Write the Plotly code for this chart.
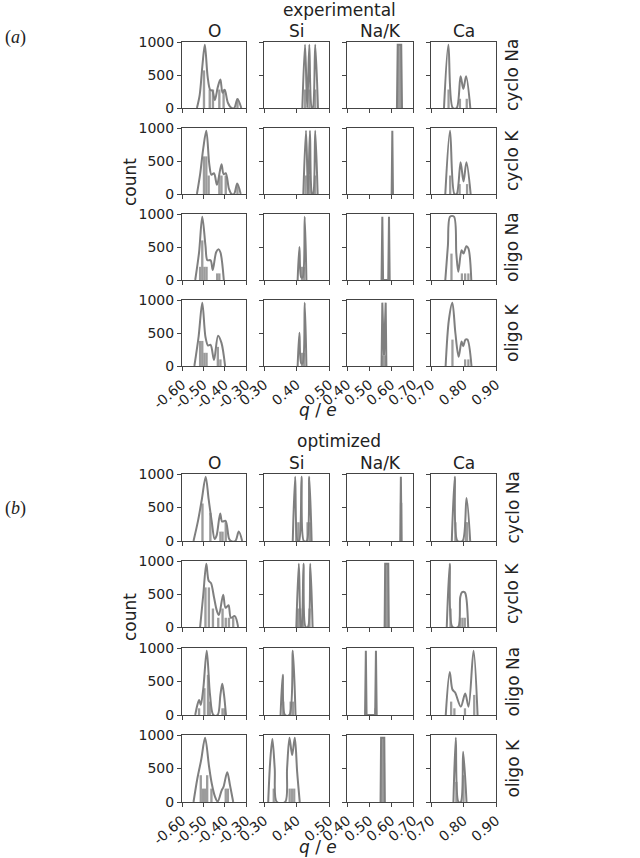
import plotly.graph_objects as go

# panel labels
columns = ['O', 'Si', 'Na/K', 'Ca']
rows = ['cyclo Na', 'cyclo K', 'oligo Na', 'oligo K']
groups = ['experimental', 'optimized']
panel_tags = ['(<i>a</i>)', '(<i>b</i>)']

x_ranges = [[-0.60, -0.30], [0.30, 0.50], [0.40, 0.70], [0.70, 0.90]]
x_ticks = [[-0.60, -0.50, -0.40, -0.30], [0.30, 0.40, 0.50],
           [0.40, 0.50, 0.60, 0.70], [0.70, 0.80, 0.90]]
y_ticks = [0, 500, 1000]

# ---- experimental charges: (q, count), one list per row ----
exp_O_curve = [
    [(-0.53, 0), (-0.517, 200), (-0.505, 620), (-0.493, 960), (-0.48, 480), (-0.468, 275), (-0.458, 265),
     (-0.446, 120), (-0.432, 320), (-0.42, 430), (-0.41, 230), (-0.40, 275), (-0.385, 80), (-0.368, 0),
     (-0.355, 0), (-0.34, 136), (-0.322, 0)],
    [(-0.53, 0), (-0.515, 300), (-0.5, 700), (-0.486, 960), (-0.472, 450), (-0.462, 290), (-0.45, 315),
     (-0.436, 140), (-0.415, 450), (-0.405, 300), (-0.395, 315), (-0.38, 80), (-0.368, 0), (-0.356, 0),
     (-0.341, 160), (-0.325, 0)],
    [(-0.538, 0), (-0.52, 420), (-0.505, 960), (-0.49, 520), (-0.481, 300), (-0.466, 300), (-0.456, 150),
     (-0.44, 420), (-0.429, 465), (-0.42, 420), (-0.404, 0)],
    [(-0.542, 0), (-0.522, 450), (-0.505, 960), (-0.49, 440), (-0.478, 310), (-0.466, 320), (-0.45, 90),
     (-0.431, 460), (-0.415, 350), (-0.398, 0)],
]
exp_O_bars = [
    [(-0.497, 570), (-0.47, 280), (-0.455, 280), (-0.425, 280), (-0.405, 280), (-0.34, 140)],
    [(-0.497, 570), (-0.486, 570), (-0.475, 280), (-0.425, 280), (-0.415, 280), (-0.395, 280), (-0.34, 140)],
    [(-0.515, 200), (-0.505, 600), (-0.495, 200), (-0.485, 200), (-0.435, 100), (-0.425, 100)],
    [(-0.515, 380), (-0.505, 380), (-0.495, 200), (-0.485, 200), (-0.432, 290), (-0.42, 100)],
]
exp_Si_curve = [
    [(0.418, 0), (0.4263, 960), (0.433, 0), (0.4394, 960), (0.447, 0), (0.45, 0), (0.4576, 960), (0.466, 0)],
    [(0.421, 0), (0.4293, 960), (0.4355, 0), (0.4414, 960), (0.448, 0), (0.451, 0), (0.4576, 960), (0.465, 0)],
    [(0.4035, 0), (0.409, 500), (0.4145, 40), (0.419, 40), (0.4253, 960), (0.4305, 0)],
    [(0.4035, 0), (0.409, 505), (0.4145, 40), (0.419, 40), (0.4253, 960), (0.4305, 0)],
]
exp_Si_bars = [
    [(0.4263, 280), (0.4394, 280), (0.4576, 280)],
    [(0.428, 280), (0.434, 280), (0.441, 280), (0.457, 280)],
    [(0.417, 200), (0.423, 200)],
    [(0.417, 200), (0.423, 200)],
]
exp_NaK_curve = [
    [(0.627, 0), (0.6305, 960), (0.6465, 960), (0.650, 0)],
    [(0.603, 0), (0.606, 960), (0.609, 0)],
    [(0.557, 0), (0.5606, 960), (0.564, 0), (0.5875, 0), (0.5909, 960), (0.594, 0)],
    [(0.557, 0), (0.5606, 960), (0.568, 160), (0.5758, 960), (0.579, 0)],
]
exp_NaK_bars = [
    [(0.6345, 960), (0.6425, 960)],
    [],
    [],
    [(0.563, 160), (0.572, 160)],
]
exp_Ca_curve = [
    [(0.74, 0), (0.7535, 960), (0.767, 0), (0.779, 0), (0.791, 480), (0.7995, 290), (0.808, 480), (0.821, 0)],
    [(0.744, 0), (0.7586, 960), (0.772, 0), (0.779, 0), (0.791, 480), (0.800, 190), (0.809, 480), (0.822, 0)],
    [(0.744, 0), (0.752, 520), (0.7586, 960), (0.7707, 960), (0.778, 400), (0.784, 125), (0.794, 450),
     (0.80, 400), (0.809, 510), (0.815, 480), (0.824, 0)],
    [(0.745, 0), (0.755, 700), (0.7657, 960), (0.775, 500), (0.785, 140), (0.794, 370), (0.799, 300),
     (0.806, 400), (0.812, 400), (0.8245, 0)],
]
exp_Ca_bars = [
    [(0.754, 280), (0.789, 140), (0.81, 140)],
    [(0.759, 280), (0.788, 150), (0.811, 150)],
    [(0.763, 400), (0.795, 100), (0.805, 100), (0.815, 100)],
    [(0.766, 400), (0.805, 100), (0.815, 100)],
]

# ---- optimized charges ----
opt_O_curve = [
    [(-0.546, 0), (-0.525, 300), (-0.507, 620), (-0.489, 960), (-0.475, 620), (-0.461, 300), (-0.447, 30),
     (-0.438, 80), (-0.421, 410), (-0.412, 290), (-0.396, 300), (-0.38, 40), (-0.371, 0), (-0.35, 0),
     (-0.334, 140), (-0.318, 0)],
    [(-0.515, 0), (-0.5, 500), (-0.486, 960), (-0.475, 700), (-0.464, 665), (-0.45, 450), (-0.437, 250),
     (-0.427, 180), (-0.407, 490), (-0.396, 290), (-0.382, 330), (-0.371, 140), (-0.3526, 165), (-0.337, 0)],
    [(-0.538, 0), (-0.528, 150), (-0.5196, 225), (-0.512, 150), (-0.5, 400), (-0.484, 960), (-0.4686, 300),
     (-0.453, 0), (-0.433, 0), (-0.42, 300), (-0.4113, 465), (-0.403, 300), (-0.394, 0)],
    [(-0.546, 0), (-0.528, 350), (-0.51, 630), (-0.4918, 960), (-0.4732, 530), (-0.4608, 280), (-0.4454, 80),
     (-0.433, 5), (-0.4144, 170), (-0.405, 230), (-0.388, 445), (-0.375, 250), (-0.36, 0)],
]
opt_O_bars = [
    [(-0.504, 560), (-0.467, 420), (-0.42, 140), (-0.41, 140), (-0.395, 280)],
    [(-0.49, 600), (-0.474, 600), (-0.455, 280), (-0.43, 140), (-0.41, 280), (-0.395, 140), (-0.38, 140),
     (-0.36, 140)],
    [(-0.52, 100), (-0.495, 400), (-0.478, 600), (-0.47, 200), (-0.41, 100), (-0.40, 100)],
    [(-0.512, 400), (-0.502, 200), (-0.492, 200), (-0.482, 400), (-0.462, 200), (-0.395, 200), (-0.385, 200)],
]
opt_Si_curve = [
    [(0.3885, 0), (0.3959, 960), (0.4035, 0), (0.408, 0), (0.4155, 960), (0.4225, 0), (0.4315, 0),
     (0.4392, 960), (0.4465, 0)],
    [(0.3995, 0), (0.4072, 960), (0.414, 0), (0.4155, 0), (0.4216, 960), (0.428, 0), (0.435, 0),
     (0.4423, 960), (0.4495, 0)],
    [(0.351, 0), (0.3577, 600), (0.3645, 0), (0.378, 0), (0.3887, 960), (0.397, 0)],
    [(0.313, 0), (0.319, 600), (0.3258, 940), (0.333, 500), (0.3395, 0), (0.365, 0), (0.371, 500),
     (0.3784, 960), (0.3866, 700), (0.3948, 960), (0.402, 450), (0.41, 0)],
]
opt_Si_bars = [
    [(0.399, 280), (0.406, 280), (0.434, 280), (0.441, 280)],
    [(0.405, 280), (0.411, 280), (0.42, 280), (0.44, 280)],
    [(0.359, 200), (0.382, 200), (0.389, 200)],
    [(0.33, 200), (0.379, 200), (0.386, 200), (0.393, 200)],
]
opt_NaK_curve = [
    [(0.642, 0), (0.6449, 960), (0.648, 0)],
    [(0.571, 0), (0.5735, 960), (0.5875, 960), (0.590, 0)],
    [(0.482, 0), (0.4857, 960), (0.489, 0), (0.528, 0), (0.5316, 960), (0.535, 0)],
    [(0.5525, 0), (0.555, 960), (0.5695, 960), (0.572, 0)],
]
opt_NaK_bars = [
    [(0.646, 570)],
    [(0.5775, 960), (0.5835, 960)],
    [(0.530, 100)],
    [(0.559, 960), (0.566, 960)],
]
opt_Ca_curve = [
    [(0.764, 0), (0.7732, 960), (0.7814, 0), (0.797, 0), (0.8093, 640), (0.8206, 0)],
    [(0.7485, 0), (0.7577, 960), (0.766, 0), (0.7835, 0), (0.79, 450), (0.795, 525), (0.804, 525),
     (0.809, 430), (0.8144, 0)],
    [(0.7454, 0), (0.7577, 640), (0.766, 380), (0.7742, 335), (0.7918, 125), (0.8052, 320), (0.8155, 125),
     (0.8309, 960), (0.8433, 0)],
    [(0.769, 0), (0.7763, 960), (0.7845, 0), (0.7918, 0), (0.799, 750), (0.8093, 0)],
]
opt_Ca_bars = [
    [(0.775, 280), (0.807, 280), (0.811, 280)],
    [(0.76, 280), (0.79, 140), (0.797, 140), (0.804, 140)],
    [(0.762, 200), (0.772, 100), (0.8045, 100), (0.833, 300)],
    [(0.778, 300), (0.80, 400)],
]

curves = [[exp_O_curve, exp_Si_curve, exp_NaK_curve, exp_Ca_curve],
          [opt_O_curve, opt_Si_curve, opt_NaK_curve, opt_Ca_curve]]
bars = [[exp_O_bars, exp_Si_bars, exp_NaK_bars, exp_Ca_bars],
        [opt_O_bars, opt_Si_bars, opt_NaK_bars, opt_Ca_bars]]

# layout in pixels
W, H = 640, 858
col_px = [(182, 246), (264, 329), (347, 413), (431, 496)]
row_px = [[(42, 108), (128, 194), (214, 280), (300, 366)],
          [(474, 541), (561, 627), (648, 715), (735, 802)]]
bar_w = [0.011, 0.007, 0.011, 0.007]
# Na/K spikes are almost vertical, straight segments look closer
col_shape = ['spline', 'spline', 'linear', 'spline']

FONT = 'DejaVu Sans'
TXT = '#222222'
AX = '#444444'

fig = go.Figure()
layout = {}

for g in range(2):
    for r in range(4):
        for c in range(4):
            n = g * 16 + r * 4 + c + 1
            sfx = '' if n == 1 else str(n)
            xa, ya = 'x' + sfx, 'y' + sfx

            b = bars[g][c][r]
            if b:
                fig.add_trace(go.Bar(x=[p[0] for p in b], y=[p[1] for p in b], width=[bar_w[c]] * len(b),
                                     marker=dict(color='#9c9c9c', line=dict(width=0)),
                                     xaxis=xa, yaxis=ya, showlegend=False))
            cv = curves[g][c][r]
            fig.add_trace(go.Scatter(x=[p[0] for p in cv], y=[p[1] for p in cv], mode='lines',
                                     line=dict(color='#7f7f7f', width=2, shape=col_shape[c], smoothing=0.9),
                                     xaxis=xa, yaxis=ya, showlegend=False))

            x0, x1 = col_px[c]
            y0, y1 = row_px[g][r]
            layout['xaxis' + sfx] = dict(
                domain=[x0 / W, x1 / W], range=x_ranges[c], anchor=ya, automargin=False,
                tickmode='array', tickvals=x_ticks[c], ticktext=['%.2f' % v for v in x_ticks[c]],
                showticklabels=(r == 3), tickangle=-40, ticks='outside', ticklen=4, tickcolor=AX,
                showline=True, mirror=True, linecolor=AX, linewidth=1,
                showgrid=False, zeroline=False, tickfont=dict(family=FONT, size=14, color=TXT))
            layout['yaxis' + sfx] = dict(
                domain=[1 - y1 / H, 1 - y0 / H], range=[0, 1000], anchor=xa, automargin=False,
                tickmode='array', tickvals=y_ticks,
                showticklabels=(c == 0), ticks='outside', ticklen=4, tickcolor=AX,
                showline=True, mirror=True, linecolor=AX, linewidth=1,
                showgrid=False, zeroline=False, tickfont=dict(family=FONT, size=14, color=TXT))

ann = []


def note(text, x, y, size=17, angle=0, family=FONT):
    ann.append(dict(text=text, x=x / W, y=1 - y / H, xref='paper', yref='paper', showarrow=False,
                    xanchor='center', yanchor='middle', textangle=angle,
                    font=dict(family=family, size=size, color=TXT)))


title_y = [10, 441]
coltitle_y = [31, 463]
count_y = [182, 617]
qe_y = [410, 847]
tag_y = [37, 509]
for g in range(2):
    note(groups[g], 339, title_y[g])
    for c in range(4):
        note(columns[c], (col_px[c][0] + col_px[c][1]) / 2, coltitle_y[g])
    for r in range(4):
        note(rows[r], 512, (row_px[g][r][0] + row_px[g][r][1]) / 2, angle=-90)
    note('count', 130, count_y[g], angle=-90)
    note('<i>q</i> / <i>e</i>', 318, qe_y[g])
    note(panel_tags[g], 15, tag_y[g], size=18, family='Liberation Serif')

fig.update_layout(**layout)
fig.update_layout(width=W, height=H, margin=dict(l=0, r=0, t=0, b=0),
                  paper_bgcolor='white', plot_bgcolor='white', barmode='overlay',
                  showlegend=False, annotations=ann)

# the page body has a default 8px margin, drop it so the figure sits at the corner
fig.write_html("out.html", config={'displayModeBar': False},
               post_script="document.body.style.margin='0px';")
